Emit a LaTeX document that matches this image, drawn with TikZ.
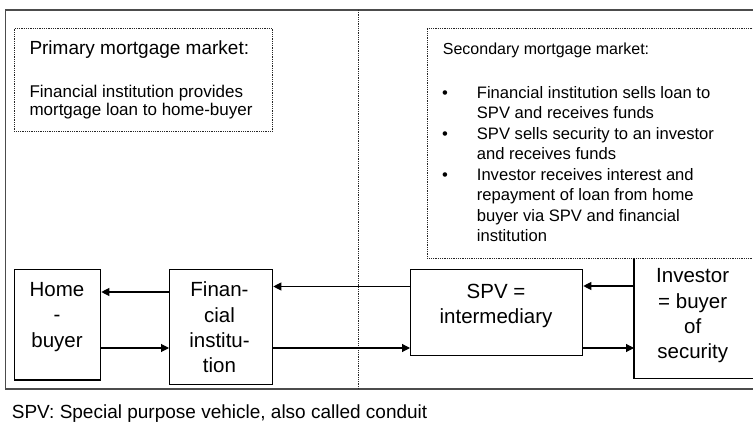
\documentclass[tikz,border=0pt]{standalone}
\usepackage{fontspec}
\setmainfont{Liberation Sans}
\usetikzlibrary{arrows.meta}
\newcommand\fsz[2]{\fontsize{#1}{#2}\selectfont}
\begin{document}
\begin{tikzpicture}[x=1pt,y=-1pt,
 frame/.style={draw=black!70, line width=1.8pt},
 dotbox/.style={draw=black!85, line width=0.9pt, dash pattern=on 0.9pt off 0.9pt},
 boxline/.style={draw=black, line width=1.3pt},
 boxshape/.style={boxline, anchor=north west, inner sep=0pt},
 flow/.style={line width=1.1pt, -{Triangle[length=8pt,width=8pt]}},
 txt/.style={inner sep=0pt, anchor=base west},
 ctxt/.style={inner sep=0pt, anchor=base, font=\fsz{20.5}{25.2}},
]
\useasboundingbox (0,0) rectangle (753,422);
\clip (0,0) rectangle (753,422);
% outer frame and divider
\draw[frame] (5.5,10) rectangle (800,389);
\draw[dotbox] (358,10) -- (358,389);
% primary market box
\node[dotbox, anchor=north west, inner sep=0pt, minimum width=258, minimum height=103] (prim) at (14,28) {};
\node[txt, font=\fsz{19}{22}] (ptitle) at (29.3,55) {Primary mortgage market:};
\node[txt, font=\fsz{17}{18}] (pbody) at (29.3,97.7) {\begin{tabular}[t]{@{}l@{}}Financial institution provides\\mortgage loan to home-buyer\end{tabular}};
% secondary market box
\node[dotbox, anchor=north west, inner sep=0pt, minimum width=400, minimum height=230.5] (sec) at (427,28) {};
\node[txt, font=\fsz{16}{20}] (stitle) at (442.7,55) {Secondary mortgage market:};
\node[txt, font=\fsz{16.6}{20.5}] (sbody) at (476.7,98.5) {\begin{tabular}[t]{@{}l@{}}Financial institution sells loan to\\SPV and receives funds\\SPV sells security to an investor\\and receives funds\\Investor receives interest and\\repayment of loan from home\\buyer via SPV and financial\\institution\end{tabular}};
\node[inner sep=0pt, anchor=base, font=\fsz{16.6}{20}] (b1) at (445,98.5) {\textbullet};
\node[inner sep=0pt, anchor=base, font=\fsz{16.6}{20}] (b2) at (445,139.5) {\textbullet};
\node[inner sep=0pt, anchor=base, font=\fsz{16.6}{20}] (b3) at (445,180.5) {\textbullet};
% flow boxes
\node[boxshape, minimum width=86, minimum height=110.3] (home) at (14,269) {};
\node[boxshape, minimum width=103, minimum height=114.5] (fi) at (169,269) {};
\node[boxshape, minimum width=172, minimum height=86] (spv) at (410,269) {};
\node[draw=none, anchor=north west, inner sep=0pt, minimum width=166, minimum height=119.3] (inv) at (634,259) {};
\draw[boxline] (inv.north west) -- (inv.south west) -- (inv.south east);
\node[ctxt] (homet) at (57,296.7) {\begin{tabular}[t]{@{}c@{}}Home\\-\\buyer\end{tabular}};
\node[ctxt] (fit) at (219.5,297) {\begin{tabular}[t]{@{}c@{}}Finan-\\cial\\institu-\\tion\end{tabular}};
\node[ctxt] (spvt) at (496,298.3) {\begin{tabular}[t]{@{}c@{}}SPV =\\intermediary\end{tabular}};
\node[ctxt] (invt) at (692.7,283) {\begin{tabular}[t]{@{}c@{}}Investor\\= buyer\\of\\security\end{tabular}};
% arrows
\draw[flow] (fi.west |- 0,292) -- (home.east |- 0,292);
\draw[flow] (home.east |- 0,348) -- (fi.west |- 0,348);
\draw[flow] (spv.west |- 0,286.5) -- (fi.east |- 0,286.5);
\draw[flow] (fi.east |- 0,348) -- (spv.west |- 0,348);
\draw[flow] (inv.west |- 0,286) -- (spv.east |- 0,286);
\draw[flow] (spv.east |- 0,348) -- (inv.west |- 0,348);
% footnote
\node[txt, font=\fsz{19}{22}] (foot) at (11.7,418.3) {SPV: Special purpose vehicle, also called conduit};
\end{tikzpicture}
\end{document}
